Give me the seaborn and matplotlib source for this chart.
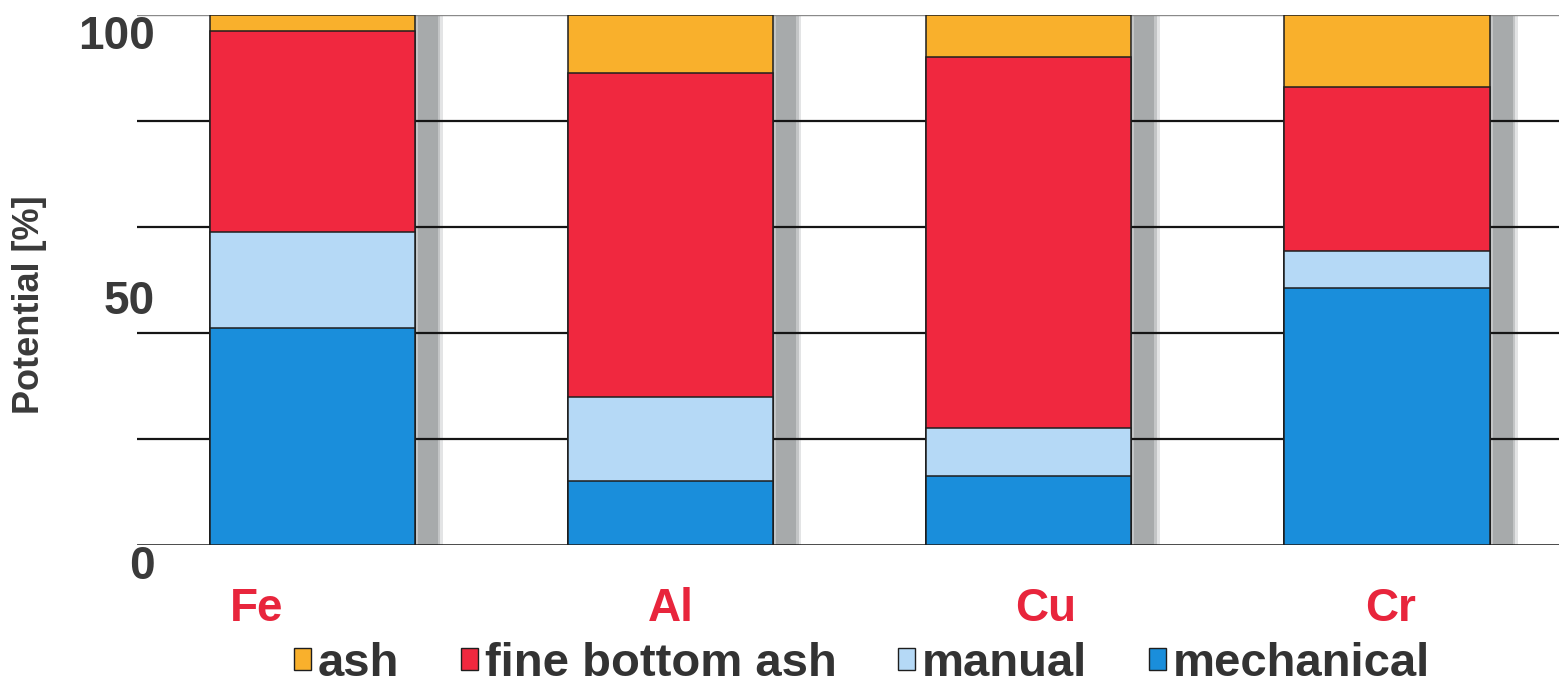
import numpy as np
import pandas as pd
import matplotlib
matplotlib.use("Agg")
import matplotlib.pyplot as plt
from matplotlib.patches import Patch
from matplotlib.transforms import ScaledTranslation
import seaborn as sns

# ---- data -------------------------------------------------------------
elements = ["Fe", "Al", "Cu", "Cr"]
mechanical = [41.0, 12.0, 13.0, 48.5]
manual = [18.0, 16.0, 9.0, 7.0]
fine_bottom_ash = [38.0, 61.0, 70.0, 31.0]
ash = [3.0, 11.0, 8.0, 13.5]

series_names = ["ash", "fine bottom ash", "manual", "mechanical"]
series_colors = ["#F9B02C", "#F0283F", "#B5D9F6", "#1A8EDB"]
y_ticks = [0, 50, 100]
grid_levels = [20, 40, 60, 80]

# ---- style ------------------------------------------------------------
sns.set_theme(style="white")
plt.rcParams["font.family"] = ["Liberation Sans", "DejaVu Sans"]

fig = plt.figure(figsize=(15.59, 6.90), dpi=100)
ax = fig.add_axes([137 / 1559, 145 / 690, 1 - 137 / 1559, 530 / 690])

df = pd.DataFrame({"element": elements, "mechanical": mechanical, "manual": manual,
                   "fine bottom ash": fine_bottom_ash, "ash": ash})
df["top_manual"] = df["mechanical"] + df["manual"]
df["top_fine"] = df["top_manual"] + df["fine bottom ash"]
df["top_ash"] = df["top_fine"] + df["ash"]

bar_w = 0.573
x = np.arange(len(elements))

# soft grey drop shadow to the right of every column
for w, a in [(0.085, 0.3), (0.07, 0.5), (0.056, 0.9)]:
    ax.bar(x + bar_w / 2 + 0.036, df["top_ash"], width=w, color="#A4A7A9",
           alpha=a, linewidth=0, zorder=0.5)

# horizontal rules
for g in grid_levels:
    ax.axhline(g, color="#151515", lw=1.6, zorder=1)
ax.axhline(0, color="#151515", lw=1.8, zorder=1)
ax.axhline(100, color="#8a8a8a", lw=1.0, zorder=1)

# stacked columns drawn as overlapping cumulative bars
for col, color in zip(["top_ash", "top_fine", "top_manual", "mechanical"], series_colors):
    sns.barplot(data=df, x="element", y=col, color=color, width=bar_w,
                edgecolor="#1e1e1e", linewidth=1.1, saturation=1, ax=ax, zorder=2)

ax.set_xlim(-0.489, 3.48)
ax.set_ylim(0, 100)
for s in ax.spines.values():
    s.set_visible(False)
ax.grid(False)

ax.set_yticks(y_ticks)
ax.set_yticklabels([str(t) for t in y_ticks], fontsize=33, fontweight="bold",
                   color="#3a3a3a", va="top")
ax.tick_params(axis="y", length=0, pad=-13)

ax.set_xticks(x)
ax.set_xticklabels(elements, fontsize=33, fontweight="bold", color="#E8253C")
ax.tick_params(axis="x", length=0, pad=30)
ax.set_xlabel("")
ax.set_ylabel("")

# small horizontal nudges of the element names (in pixels)
label_shift = [-56, 0, 17, 4]
for lab, dx in zip(ax.get_xticklabels(), label_shift):
    lab.set_transform(lab.get_transform() + ScaledTranslation(dx / 100, 0, fig.dpi_scale_trans))

fig.text(30 / 1559, 1 - 305 / 690, "Potential [%]", rotation=90, fontsize=26,
         fontweight="bold", color="#3a3a3a", ha="center", va="center")

handles = [Patch(facecolor=c, edgecolor="#1e1e1e", linewidth=1.0) for c in series_colors]
fig.legend(handles, series_names, loc="center", bbox_to_anchor=(862 / 1559, 26 / 690),
           ncol=4, frameon=False, handlelength=0.36, handleheight=0.36,
           handletextpad=0.15, columnspacing=1.3,
           prop={"weight": "bold", "size": 34}, labelcolor="#333333")

fig.savefig("out.png", dpi=100)
